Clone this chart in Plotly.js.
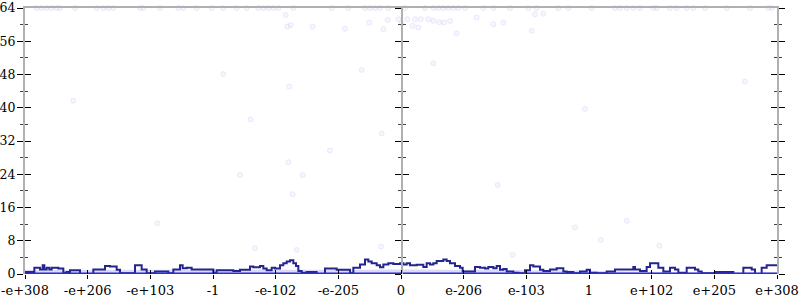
<!DOCTYPE html>
<html>
<head>
<meta charset="utf-8">
<script src="https://cdn.plot.ly/plotly-3.0.1.min.js"></script>
<style>html,body{margin:0;padding:0;background:#fff;}#chart{width:800px;height:300px;}</style>
</head>
<body>
<div id="chart"></div>
<script>
// x axis positions are in "ordered-double index" units: 188 units per labelled tick
const tickPos = [0,188,376,564,752,940,1128,1316,1504,1692,1880,2068,2256];
const tickLabels = ["-e+308","-e+206","-e+103","-1","-e-102","-e-205","0","e-206","e-103","1","e+102","e+205","e+308"];
const yTicks = [0,8,16,24,32,40,48,56,64];

// step line (running estimate)
const stepX = [0,28,45,53,58,65,73,80,100,115,125,135,165,205,240,255,275,285,330,350,365,390,430,445,465,473,485,500,565,575,625,645,675,685,705,715,725,740,750,765,775,785,795,805,813,820,830,845,875,900,935,975,985,1005,1020,1030,1040,1055,1065,1075,1090,1105,
  1125,1135,1145,1155,1175,1195,1205,1215,1225,1235,1255,1265,1275,1290,1305,1313,1350,1365,1380,1390,1405,1415,1425,1435,1445,1465,1480,1500,1515,1525,1545,1555,1575,1595,1615,1625,1645,1665,1685,1695,1715,1745,1770,1825,1830,1845,1865,1875,1900,1915,1935,1950,1960,1985,2010,2020,2030,2070,2125,2155,2180,2190,2210,2225,2256];
const stepY = [0.5,1.5,1.1,2.1,1.1,1.5,1.1,1.5,1.3,0.3,0.5,0.9,0,1.1,1.9,1.8,1.0,0.2,2.1,1.1,0.2,0.6,0.2,1.1,2.1,1.4,1.5,1.1,0.3,0.9,0.7,1.0,1.8,1.6,1.9,1.3,0.9,1.5,1.3,2.1,2.6,3.0,3.3,2.6,1.9,0.7,0.3,0.5,0,1.3,1.0,0.2,1.5,2.3,3.5,3.0,2.6,2.1,1.6,2.3,2.6,2.4,
  2.6,2.3,2.6,2.1,2.2,1.7,2.6,2.3,2.6,3.1,3.5,3.1,2.6,1.9,1.5,0.6,1.7,1.5,1.3,1.7,1.4,1.9,1.0,1.2,0.6,0.3,0.2,0.9,2.1,1.8,1.0,0.7,1.1,1.4,0.6,0.5,0.2,0.6,1.0,0.3,0.2,0.6,1.1,1.7,1.1,0.7,1.7,2.6,1.5,0.6,1.5,1.1,0.3,1.5,1.1,0.6,0.2,0.5,0,1.5,1.1,0,1.5,2.1,2.1];

// light band of dense low samples
const bandX = [0,300,600,900,1128,1400,1700,1900,2100,2256];
const bandY = [1.0,1.0,1.1,1.0,1.1,1.0,0.8,0.5,0.4,0.4];

// baseline samples at zero
const baseX = [0,2256];
const baseY = [0,0];

// scattered samples
const ptsX = [35,50,65,80,95,105,150,215,235,250,265,345,355,405,460,475,515,560,595,635,665,700,715,730,745,760,805,920,970,1020,1035,1050,1065,1090,
  1140,1200,1225,1240,1255,1270,1285,1300,1320,1375,1405,1455,1510,1535,1600,1630,1700,1770,1785,1805,1825,1845,1885,1895,1935,1955,1985,2005,2040,2105,2175,2230,2240,
  782,787,797,863,960,1033,1088,1075,1120,595,793,1010,145,677,1070,
  1130,1147,1170,1187,1210,1225,1243,1257,1275,1163,1180,1355,1295,1405,1435,1530,1555,1520,1225,2160,1680,
  645,790,833,803,915,397,690,815,1068,1418,1650,1805,1727,1903,1463];
const ptsY = [64,64,64,64,64,64,64,64,64,64,64,64,64,64,64,64,64,64,64,64,64,64,64,64,64,64,64,64,64,64,64,64,64,64,
  64,64,64,64,64,64,64,64,64,64,64,64,64,64,64,64,64,64,64,64,64,64,64,64,64,64,64,64,64,64,64,64,64,
  62.3,59.5,59.9,59.5,59.0,60.5,61.1,58.9,61.3,48.1,45.1,49.1,41.7,37.2,33.8,
  60.3,61.3,61.3,61.3,61.3,60.9,60.6,60.5,60.9,59.7,59.3,61.7,57.9,60.1,60.5,62.5,62.6,58.5,50.7,46.3,39.7,
  23.8,26.9,23.8,19.2,29.7,12.2,6.2,5.8,6.6,21.4,11.2,12.8,8.2,6.8,4.6];

const fnt = {family: "DejaVu Serif", size: 13, color: "#000"};
const yfnt = {family: "DejaVu Serif", size: 12.5, color: "#000"};
const Y = [0, 64];

const traces = [
  {x: bandX, y: bandY, type: "scatter", mode: "lines", fill: "tozeroy", line: {width: 0, shape: "spline"},
   fillcolor: "rgba(175,175,242,0.45)", hoverinfo: "skip"},
  {x: ptsX, y: ptsY, type: "scatter", mode: "markers", cliponaxis: false,
   marker: {size: 5, color: "rgba(225,225,250,0.3)", line: {color: "rgba(200,200,245,0.35)", width: 1}}},
  {x: stepX, y: stepY, type: "scatter", mode: "lines", line: {color: "#25258f", width: 2, shape: "hv"}},
  {x: baseX, y: baseY, type: "scatter", mode: "lines", cliponaxis: false, line: {color: "#2a2ad6", width: 3}}
];

function yax(extra) {
  return Object.assign({
    range: Y, tickvals: yTicks, showticklabels: false, showgrid: false, zeroline: false,
    ticklen: 6, tickwidth: 1, tickcolor: "#000", overlaying: "y", fixedrange: true,
    minor: {dtick: 4, tick0: 0, ticklen: 3, tickcolor: "#444", tickwidth: 1, ticks: extra.ticks}
  }, extra);
}

const layout = {
  width: 800, height: 300,
  margin: {l: 25, r: 23, t: 8, b: 26},
  paper_bgcolor: "#fff", plot_bgcolor: "#fff",
  showlegend: false,
  font: fnt,
  xaxis: {range: [0, 2256], tickvals: tickPos, ticktext: tickLabels, showgrid: false, zeroline: false,
          showline: false,
          ticks: "outside", ticklen: 4, tickcolor: "#000", tickwidth: 1, tickfont: fnt, fixedrange: true},
  xaxis2: {range: [0, 2256], tickvals: tickPos, showticklabels: false, showgrid: false, zeroline: false,
           ticks: "inside", ticklen: 4, tickcolor: "#000", overlaying: "x", anchor: "y", side: "bottom"},
  xaxis3: {range: [0, 2256], showticklabels: false, showgrid: false, zeroline: false, ticks: "",
           showline: true, linecolor: "#b0b0b0", linewidth: 2, overlaying: "x", anchor: "y", side: "top"},
  yaxis: {range: Y, tickvals: yTicks, showgrid: false, zeroline: false, showline: true,
          linecolor: "#b0b0b0", linewidth: 2, ticks: "outside", ticklen: 6, tickcolor: "#000",
          tickfont: yfnt, ticklabelstandoff: -1, fixedrange: true,
          minor: {dtick: 4, tick0: 0, ticklen: 3, tickcolor: "#444", ticks: "outside"}},
  yaxis2: yax({side: "left", ticks: "inside", anchor: "x"}),
  yaxis3: yax({side: "right", ticks: "outside", anchor: "x", showline: true, linecolor: "#b0b0b0", linewidth: 2}),
  yaxis4: yax({side: "right", ticks: "inside", anchor: "x"}),
  yaxis5: yax({side: "left", ticks: "outside", anchor: "free", position: 0.5007, showline: true, linecolor: "#b0b0b0", linewidth: 2}),
  yaxis6: yax({side: "left", ticks: "inside", anchor: "free", position: 0.5007})
};

// invisible helper traces to activate the extra axes
traces.push({x: [0], y: [0], xaxis: "x2", yaxis: "y", mode: "markers", marker: {opacity: 0}, hoverinfo: "skip"});
traces.push({x: [0], y: [0], xaxis: "x3", yaxis: "y", mode: "markers", marker: {opacity: 0}, hoverinfo: "skip"});
["y2","y3","y4","y5","y6"].forEach(a => traces.push({x: [0], y: [0], yaxis: a, mode: "markers", marker: {opacity: 0}, hoverinfo: "skip"}));

Plotly.newPlot("chart", traces, layout, {staticPlot: true, displayModeBar: false});
</script>
</body>
</html>
